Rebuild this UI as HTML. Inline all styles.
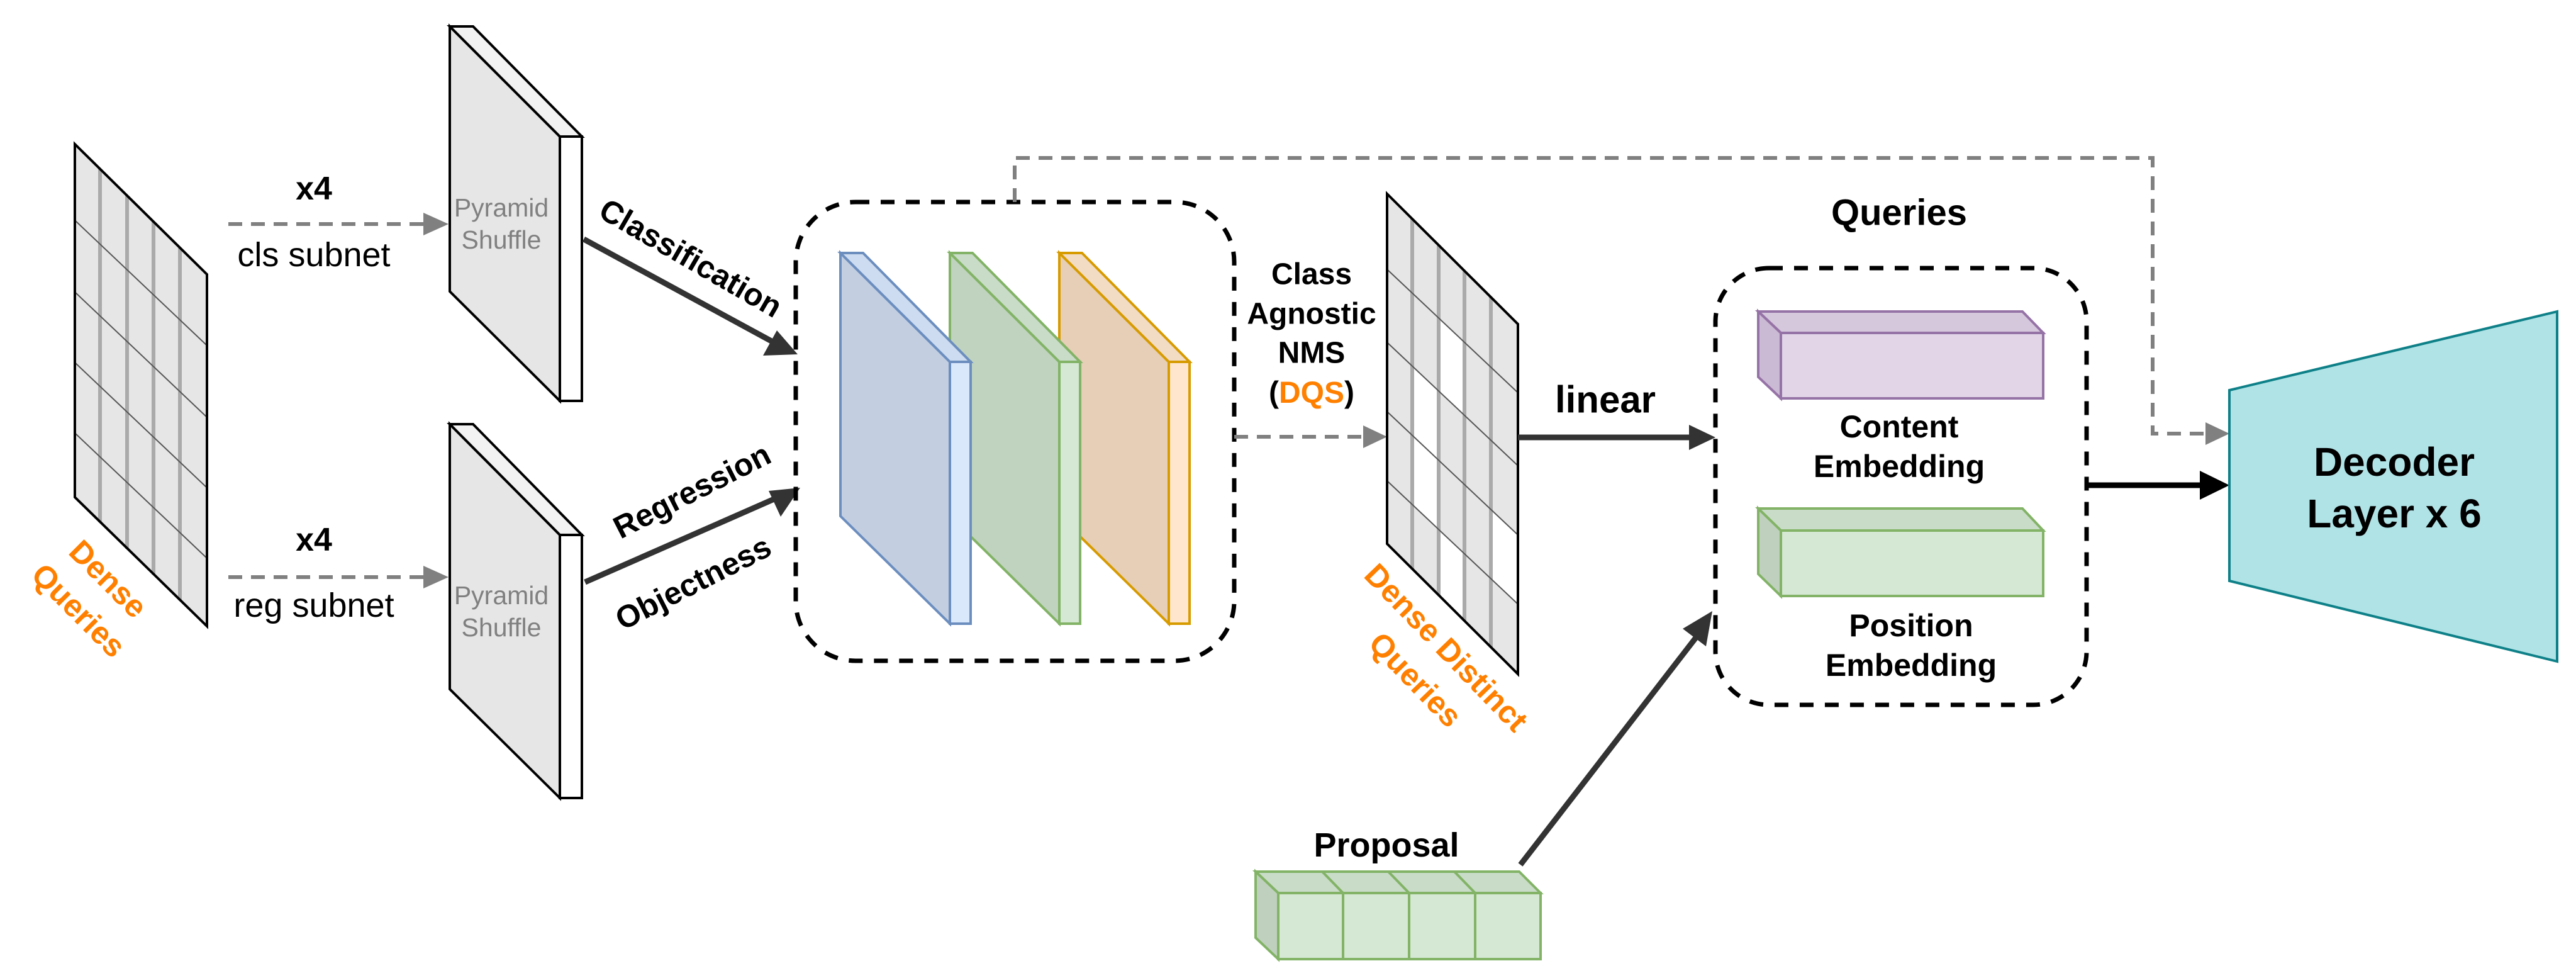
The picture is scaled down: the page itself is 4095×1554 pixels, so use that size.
<!DOCTYPE html>
<html><head><meta charset="utf-8"><style>
html,body{margin:0;padding:0;background:#fff}
svg{display:block}
text{font-family:"Liberation Sans",Arial,sans-serif}
</style></head><body>
<svg width="4095" height="1554" viewBox="0 0 4095 1554" xmlns="http://www.w3.org/2000/svg">

<!-- Dense queries grid -->
<polygon points="119,229 329,436 329,995 119,790" fill="#e6e6e6" stroke="none"/>
<g stroke="#aaaaaa" stroke-width="6">
<line x1="159" y1="268" x2="159" y2="830"/><line x1="202" y1="311" x2="202" y2="872"/>
<line x1="244" y1="352" x2="244" y2="913"/><line x1="286" y1="394" x2="286" y2="954"/>
</g>
<g stroke="#555" stroke-width="2">
<line x1="119" y1="350" x2="329" y2="549"/><line x1="119" y1="464" x2="329" y2="663"/>
<line x1="119" y1="576" x2="329" y2="775"/><line x1="119" y1="688" x2="329" y2="887"/>
</g>
<polygon points="119,229 329,436 329,995 119,790" fill="none" stroke="#000" stroke-width="4"/>
<g fill="#FF8000" font-weight="bold" font-size="50" text-anchor="middle" dominant-baseline="central">
<text transform="translate(172,920) rotate(45)">Dense</text>
<text transform="translate(125,970) rotate(45)">Queries</text>
</g>

<!-- x4 arrows -->
<g stroke="#808080" stroke-width="6" stroke-dasharray="22,14" fill="none">
<line x1="363" y1="356" x2="676" y2="356"/>
<line x1="363" y1="917" x2="676" y2="917"/>
</g>
<polygon points="713,356 673,338 673,374" fill="#808080"/>
<polygon points="713,917 673,899 673,935" fill="#808080"/>
<g text-anchor="middle" dominant-baseline="central">
<text x="499" y="300" font-size="52" font-weight="bold">x4</text>
<text x="499" y="405" font-size="54">cls subnet</text>
<text x="499" y="858" font-size="52" font-weight="bold">x4</text>
<text x="499" y="962" font-size="54">reg subnet</text>
</g>

<!-- Pyramid shuffle panels -->
<g stroke="#000" stroke-width="4" stroke-linejoin="miter">
<polygon points="715,42 890,217 890,637 715,463" fill="#e6e6e6"/>
<polygon points="715,42 752,42 925,217 890,217" fill="#f2f2f2"/>
<polygon points="890,217 925,217 925,637 890,637" fill="#fff"/>
<polygon points="715,674 890,850 890,1268 715,1095" fill="#e6e6e6"/>
<polygon points="715,674 752,674 925,850 890,850" fill="#f2f2f2"/>
<polygon points="890,850 925,850 925,1268 890,1268" fill="#fff"/>
</g>
<g fill="#808080" font-size="41" text-anchor="middle" dominant-baseline="central">
<text x="797" y="330">Pyramid</text><text x="797" y="381">Shuffle</text>
<text x="797" y="946">Pyramid</text><text x="797" y="997">Shuffle</text>
</g>

<!-- Classification / Regression arrows -->
<g stroke="#333" stroke-width="9">
<line x1="928" y1="380" x2="1230" y2="544"/>
<line x1="930" y1="925" x2="1235" y2="791"/>
</g>
<polygon points="1268,563 1213,565 1235,525" fill="#333"/>
<polygon points="1272,775 1241,821 1222,780" fill="#333"/>
<g font-size="50" font-weight="bold" text-anchor="middle" dominant-baseline="central">
<text transform="translate(1098,410) rotate(30)">Classification</text>
<text transform="translate(1100,780) rotate(-27)">Regression</text>
<text transform="translate(1102,926) rotate(-27)">Objectness</text>
</g>

<!-- Dashed box 1 -->
<rect x="1265" y="321" width="697" height="729" rx="95" ry="95" fill="none" stroke="#000" stroke-width="7" stroke-dasharray="22,18"/>

<!-- colored panels (back to front) -->
<g stroke-width="4">
<g transform="translate(348,0)" stroke="#d79b00">
<polygon points="1336,402 1510,575 1510,991 1336,820" fill="#e6cfb6"/>
<polygon points="1336,402 1372,402 1543,575 1510,575" fill="#f2dcc4"/>
<polygon points="1510,575 1543,575 1543,991 1510,991" fill="#ffe6cc"/>
</g>
<g transform="translate(174,0)" stroke="#82b366">
<polygon points="1336,402 1510,575 1510,991 1336,820" fill="#c0d3bf"/>
<polygon points="1336,402 1372,402 1543,575 1510,575" fill="#c9dcc8"/>
<polygon points="1510,575 1543,575 1543,991 1510,991" fill="#d5e8d4"/>
</g>
<g stroke="#6c8ebf">
<polygon points="1336,402 1510,575 1510,991 1336,820" fill="#c3cfe1"/>
<polygon points="1336,402 1372,402 1543,575 1510,575" fill="#cddcf0"/>
<polygon points="1510,575 1543,575 1543,991 1510,991" fill="#dae8fc"/>
</g>
</g>

<!-- top gray dashed connector -->
<polyline points="1613,321 1613,251 3422,251 3422,689 3505,689" fill="none" stroke="#808080" stroke-width="6" stroke-dasharray="22,14"/>
<polygon points="3544,689 3506,671 3506,707" fill="#808080"/>

<!-- NMS dashed arrow -->
<line x1="1962" y1="694" x2="2168" y2="694" stroke="#808080" stroke-width="6" stroke-dasharray="22,14"/>
<polygon points="2205,694 2167,676 2167,712" fill="#808080"/>
<g font-size="48" font-weight="bold" text-anchor="middle" dominant-baseline="central">
<text x="2085" y="436">Class</text>
<text x="2085" y="499">Agnostic</text>
<text x="2085" y="561">NMS</text>
<text x="2085" y="624">(<tspan fill="#FF8000">DQS</tspan>)</text>
</g>

<!-- Dense distinct grid -->
<polygon points="2205,308 2413,515 2413,1071 2205,864" fill="#e6e6e6"/>
<g fill="#fff">
<polygon points="2287,505 2328,544 2328,660 2287,621"/>
<polygon points="2245,582 2287,621 2287,731 2245,692"/>
<polygon points="2245,692 2287,731 2287,841 2245,802"/>
<polygon points="2287,841 2328,880 2328,986 2287,946"/>
<polygon points="2370,809 2413,850 2413,960 2370,919"/>
</g>
<g stroke="#aaaaaa" stroke-width="6">
<line x1="2245" y1="348" x2="2245" y2="904"/><line x1="2287" y1="390" x2="2287" y2="946"/>
<line x1="2328" y1="431" x2="2328" y2="987"/><line x1="2370" y1="472" x2="2370" y2="1028"/>
</g>
<g stroke="#555" stroke-width="2">
<line x1="2205" y1="428" x2="2413" y2="624"/><line x1="2205" y1="544" x2="2413" y2="740"/>
<line x1="2205" y1="654" x2="2413" y2="850"/><line x1="2205" y1="764" x2="2413" y2="960"/>
</g>
<polygon points="2205,308 2413,515 2413,1071 2205,864" fill="none" stroke="#000" stroke-width="4"/>
<g fill="#FF8000" font-weight="bold" font-size="50" text-anchor="middle" dominant-baseline="central">
<text transform="translate(2299,1029) rotate(46)">Dense Distinct</text>
<text transform="translate(2250,1080) rotate(46)">Queries</text>
</g>

<!-- linear arrow -->
<line x1="2413" y1="695" x2="2690" y2="695" stroke="#333" stroke-width="9"/>
<polygon points="2727,695 2685,675 2685,715" fill="#333"/>
<text x="2552" y="635" font-size="60" font-weight="bold" text-anchor="middle" dominant-baseline="central">linear</text>

<!-- Queries box -->
<text x="3019" y="338" font-size="58" font-weight="bold" text-anchor="middle" dominant-baseline="central">Queries</text>
<rect x="2727" y="426" width="590" height="694" rx="85" ry="85" fill="none" stroke="#000" stroke-width="7" stroke-dasharray="22,18"/>
<g stroke="#9673a6" stroke-width="4">
<polygon points="2795,495 3215,495 3248,529 2831,529" fill="#d5c7dc"/>
<polygon points="2795,495 2831,529 2831,633 2795,599" fill="#cbbad4"/>
<rect x="2831" y="529" width="417" height="104" fill="#e1d5e7"/>
</g>
<g stroke="#82b366" stroke-width="4">
<polygon points="2795,808 3215,808 3248,843 2831,843" fill="#c9dcc8"/>
<polygon points="2795,808 2831,843 2831,947 2795,912" fill="#bfd1be"/>
<rect x="2831" y="843" width="417" height="104" fill="#d5e8d4"/>
</g>
<g font-size="50" font-weight="bold" text-anchor="middle" dominant-baseline="central">
<text x="3019" y="678">Content</text><text x="3019" y="741">Embedding</text>
<text x="3038" y="994">Position</text><text x="3038" y="1057">Embedding</text>
</g>

<!-- Decoder -->
<line x1="3317" y1="771" x2="3500" y2="771" stroke="#000" stroke-width="9"/>
<polygon points="3544,771 3497,748 3497,794" fill="#000"/>
<polygon points="3544,620 4065,495 4065,1051 3544,923" fill="#b0e3e6" stroke="#0e8088" stroke-width="4"/>
<g font-size="64" font-weight="bold" text-anchor="middle" dominant-baseline="central">
<text x="3806" y="734">Decoder</text><text x="3806" y="816">Layer x 6</text>
</g>

<!-- Proposal -->
<text x="2204" y="1343" font-size="54" font-weight="bold" text-anchor="middle" dominant-baseline="central">Proposal</text>
<g stroke="#82b366" stroke-width="4">
<polygon points="1996,1385 2415,1385 2449,1419 2032,1419" fill="#c9dcc8"/>
<polygon points="1996,1385 2032,1419 2032,1524 1996,1490" fill="#bfd1be"/>
<rect x="2032" y="1419" width="417" height="105" fill="#d5e8d4"/>
<line x1="2102" y1="1385" x2="2135" y2="1419"/><line x1="2207" y1="1385" x2="2240" y2="1419"/><line x1="2312" y1="1385" x2="2345" y2="1419"/>
<line x1="2135" y1="1419" x2="2135" y2="1524"/><line x1="2240" y1="1419" x2="2240" y2="1524"/><line x1="2345" y1="1419" x2="2345" y2="1524"/>
</g>
<line x1="2417" y1="1374" x2="2703" y2="1004" stroke="#333" stroke-width="9"/>
<polygon points="2722,971 2712,1027 2675,999" fill="#333"/>
</svg>
</body></html>
